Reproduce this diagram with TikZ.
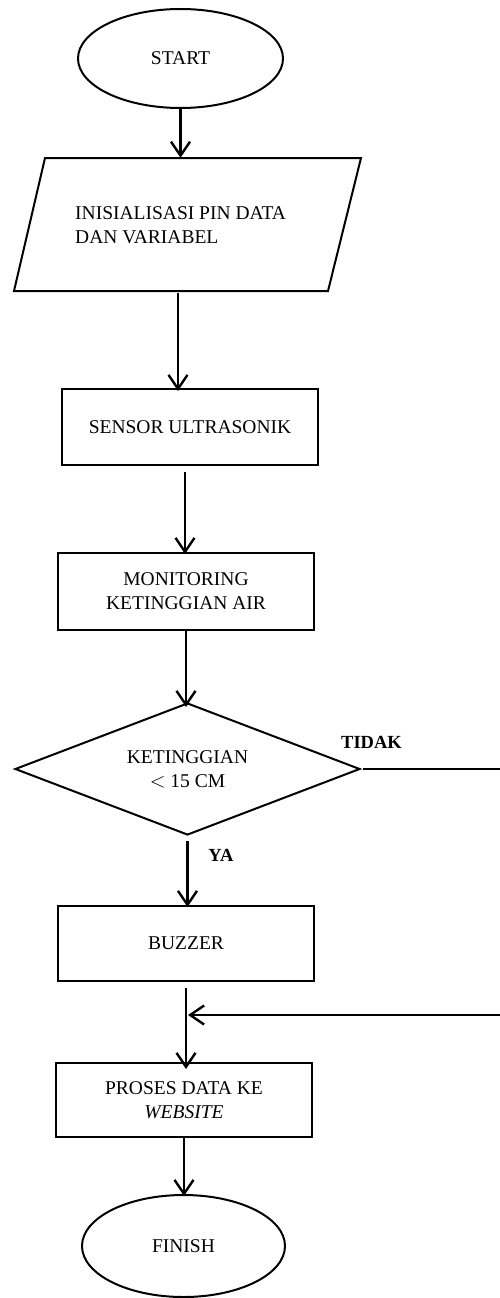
\documentclass[tikz,border=0pt]{standalone}
\usepackage{fontspec}
\setmainfont{Liberation Serif}
\usetikzlibrary{shapes.geometric,arrows.meta}
\begin{document}
\begin{tikzpicture}[x=1pt,y=-1pt,
  base/.style={draw, line width=2pt, inner sep=0pt, font=\fontsize{19.5}{24}\selectfont, align=center},
  term/.style={base, ellipse},
  procbox/.style={base, rectangle, minimum width=256pt},
  decbox/.style={base, diamond, aspect=2.6},
  lbl/.style={font=\fontsize{18.5}{22}\selectfont\bfseries},
  arr/.style={line width=2.4pt, -{Straight Barb[length=14pt,width=19pt,line width=2.4pt]}},
  ln/.style={line width=2.4pt}]
\useasboundingbox (0,0) rectangle (500,1298);
\node[term, minimum width=205pt, minimum height=99pt] (start) at (180.5,58.5) {START};
\node[inner sep=0pt, minimum width=316pt, minimum height=133pt] (init) at (187.5,224.5) {};
\draw[line width=2pt] (45,158) -- (361,158) -- (328,291) -- (14,291) -- cycle;
\node[font=\fontsize{19.5}{24}\selectfont, align=left, anchor=west, inner sep=0pt] (inittxt) at (75,225) {INISIALISASI PIN DATA\\DAN VARIABEL};
\node[procbox, minimum height=76pt] (sensor) at (190,427) {SENSOR ULTRASONIK};
\node[procbox, minimum height=77pt] (monitor) at (186,591.5) {MONITORING\\KETINGGIAN AIR};
\node[decbox, minimum width=345pt, minimum height=132pt] (dec) at (187.5,769) {KETINGGIAN\\$<$ 15 CM};
\node[procbox, minimum height=75pt] (buzzer) at (186,943.5) {BUZZER};
\node[procbox, minimum height=74pt] (proses) at (184,1100) {PROSES DATA KE\\\textit{WEBSITE}};
\node[term, minimum width=203pt, minimum height=102pt] (finish) at (183.5,1246) {FINISH};
\node[lbl] (tidak) at (371.5,742) {TIDAK};
\node[lbl] (ya) at (221,855) {YA};
\coordinate (r1) at (500,769);
\coordinate (r2) at (500,1015);
\draw[arr] (start.south) -- (start.south |- init.north);
\draw[arr] ([xshift=-9.5pt,yshift=-2pt]init.south) -- ([xshift=-9.5pt,yshift=-3pt]init.south |- sensor.north);
\draw[arr] ([xshift=-5pt,yshift=-6pt]sensor.south) -- ([xshift=-5pt,yshift=-2pt]sensor.south |- monitor.north);
\draw[arr] (monitor.south) -- ([yshift=-5pt]monitor.south |- dec.north);
\draw[arr] ([yshift=-5pt]dec.south) -- ([yshift=-2pt]dec.south |- buzzer.north);
\draw[ln] ([xshift=2pt]dec.east) -- (r1);
\draw[arr] ([yshift=-6pt]buzzer.south) -- ([yshift=-7pt]buzzer.south |- proses.north);
\draw[arr] (r2) -- ([xshift=2pt]buzzer.south |- r2);
\draw[arr] (proses.south) -- ([yshift=-2pt]proses.south |- finish.north);
\end{tikzpicture}
\end{document}
